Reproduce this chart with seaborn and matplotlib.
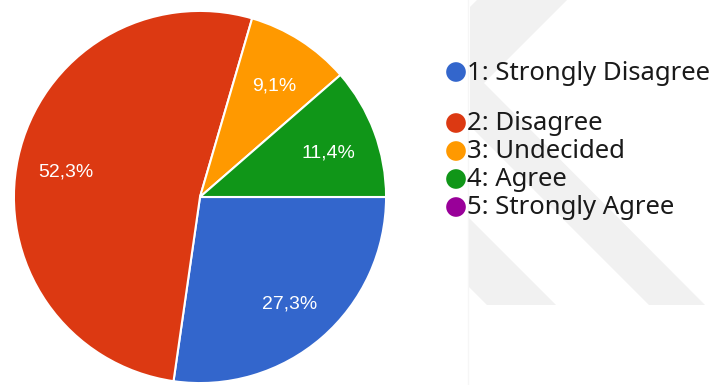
import matplotlib
matplotlib.use("Agg")
import numpy as np
import matplotlib.pyplot as plt
from matplotlib.patches import Polygon
import seaborn as sns

# Survey answers and their shares (%)
categories = ["1: Strongly Disagree", "2: Disagree", "3: Undecided",
              "4: Agree", "5: Strongly Agree"]
shares = [27.3, 52.3, 9.1, 11.4, 0.0]
colors = ["#3366cc", "#dc3912", "#ff9900", "#109618", "#990099"]

sns.set_theme(style="white")
plt.rcParams["font.family"] = ["Liberation Sans", "DejaVu Sans"]

W, H = 712, 385
fig = plt.figure(figsize=(W / 100, H / 100), dpi=100)
fig.patch.set_facecolor("white")

# Background layer in pixel coordinates (y down)
bg = fig.add_axes([0, 0, 1, 1], zorder=0)
bg.set_xlim(0, W)
bg.set_ylim(H, 0)
bg.axis("off")
wm = "#f1f1f1"
bg.add_patch(Polygon([(477, 0), (567, 0), (484, 83), (705, 305), (649, 305),
                      (470, 126), (470, 7)], closed=True, fc=wm, ec="none"))
bg.add_patch(Polygon([(468, 217), (556, 305), (487, 305), (468, 286)],
                     closed=True, fc=wm, ec="none"))
bg.plot([468, 468], [0, H], color="#f6f6f6", lw=1)

# Pie
cx, cy, r = 200, 197, 187
ax = fig.add_axes([(cx - r) / W, (H - cy - r) / H, 2 * r / W, 2 * r / H], zorder=1)
shown = [(v, c) for v, c in zip(shares, colors) if v > 0]
pie_vals = [v for v, _ in shown]
pie_cols = [c for _, c in shown]
wedges, _ = ax.pie(
    pie_vals, colors=pie_cols, startangle=0, counterclock=False, radius=1,
    wedgeprops=dict(edgecolor="white", linewidth=1.5),
)
for w, v in zip(wedges, pie_vals):
    mid = np.deg2rad((w.theta1 + w.theta2) / 2)
    ax.text(0.735 * np.cos(mid), 0.735 * np.sin(mid) - 0.02,
            f"{v:.1f}%".replace(".", ","),
            color="white", fontsize=14, ha="center", va="center")
ax.set_xlim(-1.005, 1.005)
ax.set_ylim(-1.005, 1.005)
ax.set_aspect("equal")
ax.axis("off")

# Legend drawn as dots and labels
rows_y = [72, 123, 151, 179, 207]
for lab, col, y in zip(categories, colors, rows_y):
    bg.scatter([456], [y], s=200, color=col, edgecolors="none", zorder=3)
    bg.text(467, y + 1, lab, fontsize=18.5, color="#1a1a1a", va="center", ha="left",
            family=["Noto Sans", "DejaVu Sans"], zorder=3)

fig.savefig("out.png", dpi=100, facecolor="white")
